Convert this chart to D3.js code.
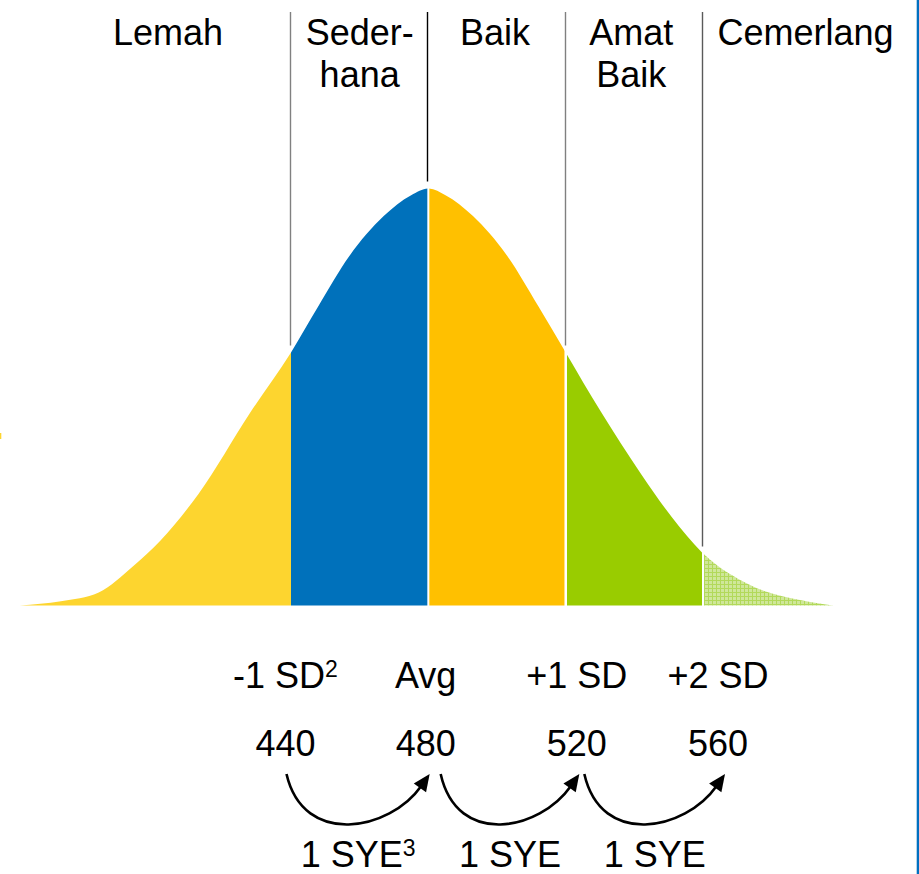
<!DOCTYPE html>
<html>
<head>
<meta charset="utf-8">
<script src="https://cdn.jsdelivr.net/npm/d3@7"></script>
<style>
  html, body { margin: 0; padding: 0; background: #fff; }
  svg { display: block; }
  text { font-family: "Liberation Sans", Arial, Helvetica, sans-serif; fill: #000; }
</style>
</head>
<body>
<svg id="chart" width="919" height="874"></svg>
<script>
// ---------------- DATA ----------------
// Bell curve: score vs relative height (peak = 100)
const curveScore   = [361, 373, 384, 394, 402, 413, 428, 440, 448, 457, 467, 475, 480, 485, 493, 503, 512, 520, 530, 542, 551, 560, 574, 589, 598];
const curveDensity = [0, 1.0, 3.1, 9.4, 15.6, 26.7, 46.1, 60.7, 71.8, 83.8, 93.4, 98.4, 100, 98.4, 93.4, 83.8, 71.8, 60.7, 46.8, 31.5, 21.1, 12.5, 4.8, 1.2, 0];

// Bands (grade categories) and their score edges
const bandEdges = [361, 440, 480, 520, 560, 598];
const bandNames = [["Lemah"], ["Seder-", "hana"], ["Baik"], ["Amat", "Baik"], ["Cemerlang"]];

// Axis labels under the curve
const sdScores = [440, 480, 520, 560];
const sdLabels = ["-1 SD", "Avg", "+1 SD", "+2 SD"];
const sdSup    = ["2", "", "", ""];
const scoreLabels = ["440", "480", "520", "560"];

// Growth arrows (one year of schooling each)
const syeFrom   = [440, 480, 520];
const syeTo     = [480, 520, 560];
const syeLabels = ["1 SYE", "1 SYE", "1 SYE"];
const syeSup    = ["3", "", ""];

// ---------------- STYLE / LAYOUT ----------------
const W = 919, H = 874;
const bandFills = ["#FDD52F", "#0071BB", "#FFC000", "#99CC00", "url(#hatch)"];
const lineColors = ["#808080", "#000000", "#808080", "#5a5a5a"];
const FS = 36;

const svg = d3.select("#chart");
const defs = svg.append("defs");

const x = d3.scaleLinear().domain([440, 560]).range([291, 703]);
const y = d3.scaleLinear().domain([0, 100]).range([605.5, 188.5]);
// scale for bottom text rows
const bx = d3.scaleLinear().domain([440, 560]).range([285.5, 718]);
const bxNudge = [0, -4, 3, 0];

const pts = curveScore.map((s, i) => ({ s, d: curveDensity[i] }));
const densAt = s => curveDensity[curveScore.indexOf(s)];

// hatch pattern for the last band
const pat = defs.append("pattern").attr("id", "hatch")
  .attr("patternUnits", "userSpaceOnUse").attr("width", 4).attr("height", 4);
pat.append("rect").attr("width", 4).attr("height", 4).attr("fill", "#cfe79a");
pat.append("rect").attr("x", 0).attr("y", 0).attr("width", 4).attr("height", 1).attr("fill", "#b2d95a");
pat.append("rect").attr("x", 0).attr("y", 0).attr("width", 1).attr("height", 4).attr("fill", "#b2d95a");

const area = d3.area()
  .x(p => x(p.s))
  .y0(y(0))
  .y1(p => y(p.d))
  .curve(d3.curveMonotoneX);

// gaps (white separators) left/right of each band
const gapL = [0, 0, 1, 1.3, 1];
const gapR = [0, 1, 1.2, 1, 0];

bandEdges.slice(0, -1).forEach((lo, i) => {
  const hi = bandEdges[i + 1];
  const x0 = i === 0 ? 0 : x(lo) + gapL[i];
  const x1 = i === bandEdges.length - 2 ? W : x(hi) - gapR[i];
  defs.append("clipPath").attr("id", "clip" + i)
    .append("rect").attr("x", x0).attr("y", 0).attr("width", x1 - x0).attr("height", H);
  svg.append("path")
    .attr("d", area(pts))
    .attr("fill", bandFills[i])
    .attr("clip-path", `url(#clip${i})`);
});

// vertical divider lines
sdScores.forEach((s, i) => {
  const xx = Math.round(x(s)) - 0.5;
  svg.append("line")
    .attr("x1", xx).attr("x2", xx)
    .attr("y1", 12).attr("y2", y(densAt(s)) - 7)
    .attr("stroke", lineColors[i]).attr("stroke-width", 1.4);
});

// band names at top
const labelLeft = 45, labelRight = 912;
const nameNudge = [0, 0, -2, -3, -2];
bandNames.forEach((lines, i) => {
  const a = i === 0 ? labelLeft : x(bandEdges[i]);
  const b = i === bandNames.length - 1 ? labelRight : x(bandEdges[i + 1]);
  const cx = (a + b) / 2 + nameNudge[i];
  const t = svg.append("text")
    .attr("x", cx).attr("y", 45)
    .attr("text-anchor", "middle").style("font-size", FS + "px");
  lines.forEach((ln, j) => {
    t.append("tspan").attr("x", cx).attr("dy", j === 0 ? 0 : 42).text(ln);
  });
});

// SD labels row
sdScores.forEach((s, i) => {
  const t = svg.append("text")
    .attr("x", bx(s) + bxNudge[i]).attr("y", 688)
    .attr("text-anchor", "middle").style("font-size", FS + "px");
  t.append("tspan").text(sdLabels[i]);
  if (sdSup[i]) {
    t.append("tspan").attr("dy", -11).style("font-size", "23px").text(sdSup[i]);
  }
});

// score row
sdScores.forEach((s, i) => {
  svg.append("text")
    .attr("x", bx(s) + bxNudge[i]).attr("y", 756)
    .attr("text-anchor", "middle").style("font-size", FS + "px")
    .text(scoreLabels[i]);
});

// curved arrows
const arcStartNudge = [1, 15, 7.5];
const arcEndNudge = [4, 2.5, 7];
const ang = 55 * Math.PI / 180;
const ux = Math.cos(ang), uy = -Math.sin(ang);
const headLen = 17, headHalf = 7.5, arcY = 774;
syeFrom.forEach((f, i) => {
  const xs = bx(f) + bxNudge[i] + arcStartNudge[i];
  const xt = bx(syeTo[i]) + bxNudge[i + 1] + arcEndNudge[i];
  const w = xt - xs;
  const Bx = xt - headLen * ux, By = arcY - headLen * uy;
  const P1 = [xs + 0.12 * w, 848];
  const P2 = [Bx - 52 * ux, By - 52 * uy];
  const p = d3.path();
  p.moveTo(xs, arcY);
  p.bezierCurveTo(P1[0], P1[1], P2[0], P2[1], Bx + 2 * ux, By + 2 * uy);
  svg.append("path").attr("d", p.toString())
    .attr("fill", "none").attr("stroke", "#000").attr("stroke-width", 2.6);
  // arrow head
  const nx = -uy, ny = ux;
  const head = [[xt, arcY], [Bx + headHalf * nx, By + headHalf * ny], [Bx - headHalf * nx, By - headHalf * ny]];
  svg.append("path").attr("d", "M" + head.map(q => q.join(",")).join("L") + "Z").attr("fill", "#000");
  // label
  const t = svg.append("text")
    .attr("x", xs + w / 2).attr("y", 867)
    .attr("text-anchor", "middle").style("font-size", FS + "px");
  t.append("tspan").text(syeLabels[i]);
  if (syeSup[i]) {
    t.append("tspan").attr("dy", -11).style("font-size", "23px").text(syeSup[i]);
  }
});

// frame details: blue right edge and small yellow mark at left
svg.append("rect").attr("x", 916.7).attr("y", 0).attr("width", 2.3).attr("height", H).attr("fill", "#0070C0");
svg.append("rect").attr("x", 0).attr("y", 433).attr("width", 1.3).attr("height", 6).attr("fill", "#FDD52F");
</script>
</body>
</html>
